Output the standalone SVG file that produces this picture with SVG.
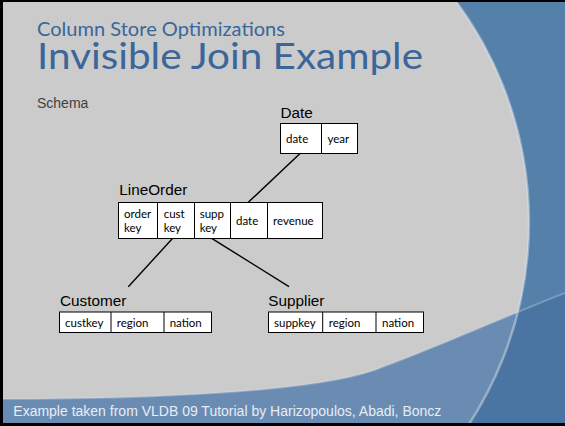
<svg xmlns="http://www.w3.org/2000/svg" width="565" height="426" viewBox="0 0 565 426">
  <style>
    .label { font-family: "Liberation Sans", Arial, sans-serif; font-size: 15.3px; fill: #000; }
    .cell { fill: #fff; stroke: #000; stroke-width: 1; }
    .div { stroke: #000; stroke-width: 1; }
    .ct { font-family: Lato, "Open Sans", sans-serif; font-size: 11.5px; fill: #000; }
    .conn { stroke: #000; stroke-width: 1.4; fill: none; }
    .title { font-family: Lato, "Open Sans", sans-serif; fill: #3a669a; }
  </style>
  <defs>
    <clipPath id="upper">
      <path d="M0,0 H565 V293 C530,306 430,350 380,368 C320,392 150,399 0,399 Z"/>
    </clipPath>
  </defs>

  <!-- slide background -->
  <rect x="0" y="0" width="565" height="426" fill="#4a74a2"/>
  <path d="M0,0 H565 V293 C530,306 430,350 380,368 C320,392 150,399 0,399 Z" fill="#5580aa"/>
  <circle cx="159" cy="222" r="370" fill="#6a8cb2"/>
  <circle cx="159" cy="222" r="370" fill="#cbcbcb" clip-path="url(#upper)"/>
  <circle cx="159" cy="222" r="370" fill="none" stroke="#dfe6ee" stroke-opacity="0.45" stroke-width="2.5"/>
  <path d="M565,293 C530,306 430,350 380,368 C320,392 150,399 0,399" fill="none" stroke="#dfe6ee" stroke-opacity="0.3" stroke-width="2"/>

  <!-- frame -->
  <rect x="0" y="0" width="3" height="426" fill="#000"/>
  <rect x="0" y="0" width="565" height="2" fill="#000"/>
  <rect x="0" y="423" width="565" height="3" fill="#000"/>

  <!-- headings -->
  <text class="title" x="37" y="35.5" font-size="19.5" textLength="248" lengthAdjust="spacingAndGlyphs">Column Store Optimizations</text>
  <text class="title" x="37" y="69" font-size="37" textLength="386" lengthAdjust="spacingAndGlyphs">Invisible Join Example</text>
  <text x="37" y="108.3" font-family="Liberation Sans, Arial, sans-serif" font-size="14" fill="#404040">Schema</text>

  <!-- connectors -->
  <g id="connectors">
    <line class="conn" x1="300.3" y1="153.3" x2="248.3" y2="202.3"/>
    <line class="conn" x1="172.7" y1="238.3" x2="128.3" y2="286.7"/>
    <line class="conn" x1="211.7" y1="238.3" x2="289" y2="286.7"/>
  </g>

  <!-- Date table -->
  <g id="date">
    <text class="label" x="280.5" y="117.7">Date</text>
    <rect class="cell" x="280.5" y="123.5" width="77" height="30"/>
    <line class="div" x1="321.5" y1="123.5" x2="321.5" y2="153.5"/>
    <text class="ct" x="286" y="142.5">date</text>
    <text class="ct" x="327.5" y="142.5">year</text>
  </g>

  <!-- LineOrder table -->
  <g id="lineorder">
    <text class="label" x="119.3" y="195">LineOrder</text>
    <rect class="cell" x="118.5" y="202.5" width="204" height="36"/>
    <line class="div" x1="157.5" y1="202.5" x2="157.5" y2="238.5"/>
    <line class="div" x1="194.5" y1="202.5" x2="194.5" y2="238.5"/>
    <line class="div" x1="230.5" y1="202.5" x2="230.5" y2="238.5"/>
    <line class="div" x1="267.5" y1="202.5" x2="267.5" y2="238.5"/>
    <text class="ct" x="124" y="217.7">order</text>
    <text class="ct" x="124" y="232.3">key</text>
    <text class="ct" x="163.7" y="217.7">cust</text>
    <text class="ct" x="163.7" y="232.3">key</text>
    <text class="ct" x="199.7" y="217.7">supp</text>
    <text class="ct" x="199.7" y="232.3">key</text>
    <text class="ct" x="236" y="225.3">date</text>
    <text class="ct" x="273" y="225.3">revenue</text>
  </g>

  <!-- Customer table -->
  <g id="customer">
    <text class="label" x="60" y="306">Customer</text>
    <rect class="cell" x="59.5" y="312" width="152" height="20.5"/>
    <line class="div" x1="111" y1="312" x2="111" y2="332.5"/>
    <line class="div" x1="164" y1="312" x2="164" y2="332.5"/>
    <text class="ct" x="65" y="326.5">custkey</text>
    <text class="ct" x="116.7" y="326.5">region</text>
    <text class="ct" x="169.7" y="326.5">nation</text>
  </g>

  <!-- Supplier table -->
  <g id="supplier">
    <text class="label" x="268.3" y="306">Supplier</text>
    <rect class="cell" x="268.5" y="312" width="155" height="20.5"/>
    <line class="div" x1="322.7" y1="312" x2="322.7" y2="332.5"/>
    <line class="div" x1="376" y1="312" x2="376" y2="332.5"/>
    <text class="ct" x="274" y="326.5">suppkey</text>
    <text class="ct" x="328.7" y="326.5">region</text>
    <text class="ct" x="382" y="326.5">nation</text>
  </g>

  <!-- footer -->
  <text x="13.3" y="416" font-family="Liberation Sans, Arial, sans-serif" font-size="14" fill="#e6edf5">Example taken from VLDB 09 Tutorial by Harizopoulos, Abadi, Boncz</text>
</svg>
